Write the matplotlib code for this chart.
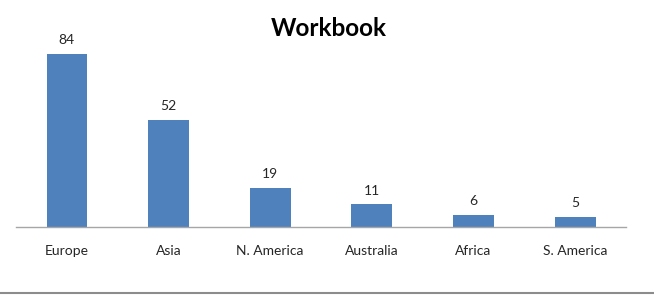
import matplotlib.pyplot as plt
from matplotlib.lines import Line2D

regions = ["Europe", "Asia", "N. America", "Australia", "Africa", "S. America"]
counts = [84, 52, 19, 11, 6, 5]

plt.rcParams['font.family'] = ['Lato', 'DejaVu Sans']

fig = plt.figure(figsize=(6.54, 3.01), dpi=100)
ax = fig.add_axes([16 / 654, 74 / 301, 610 / 654, 187 / 301])

x = range(len(regions))
bars = ax.bar(x, counts, width=0.4, color="#4F81BD")
ax.set_xlim(-0.5, len(regions) - 0.5)
ax.set_ylim(0, 90.8)

# value labels above bars
for b, v in zip(bars, counts):
    ax.annotate(str(v), (b.get_x() + b.get_width() / 2, v),
                xytext=(0, 5.5), textcoords="offset points",
                ha="center", va="bottom", fontsize=10, color="#262626")

ax.set_xticks(list(x))
ax.set_xticklabels(regions, fontsize=10, color="#262626")
ax.tick_params(axis="x", length=0, pad=13)
ax.set_yticks([])
for side in ["top", "right", "left"]:
    ax.spines[side].set_visible(False)
ax.spines["bottom"].set_color("#A6A6A6")
ax.spines["bottom"].set_linewidth(1.0)

fig.text(0.503, 0.905, "Workbook", ha="center", va="center",
         fontsize=17.5, fontweight="bold", color="black")

# separator line at the bottom of the page
fig.add_artist(Line2D([0, 1], [8 / 301, 8 / 301], color="#8C8C8C", linewidth=1.5,
                      transform=fig.transFigure))

fig.savefig("out.png", dpi=100)
